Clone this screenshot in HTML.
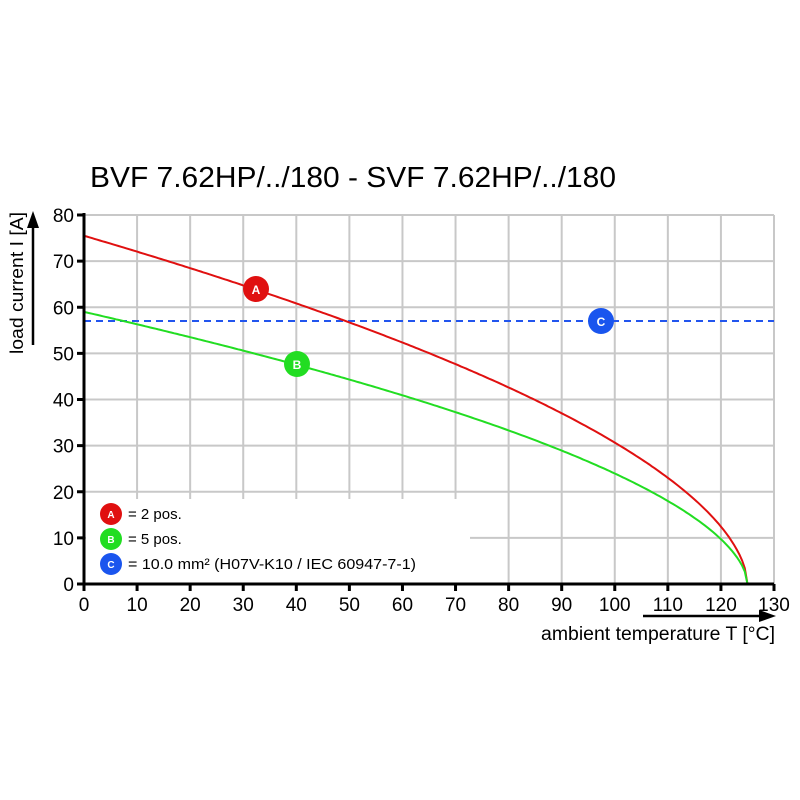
<!DOCTYPE html>
<html><head><style>body{margin:0;background:#fff}svg{display:block}</style></head><body>
<svg id="s" width="800" height="800" viewBox="0 0 800 800" font-family="Liberation Sans, Arial, sans-serif">
<rect width="800" height="800" fill="#fff"/>
<g id="grid" stroke="#c8c8c8" stroke-width="2"></g>
<rect x="86" y="499" width="384" height="84" fill="#fff"/>
<line x1="84" y1="321" x2="774" y2="321" stroke="#2255ee" stroke-width="2" stroke-dasharray="7,5"/>
<path id="pa" fill="none" stroke="#e01010" stroke-width="2"/>
<path id="pb" fill="none" stroke="#22dd22" stroke-width="2"/>
<g id="ax" stroke="#000" stroke-width="3"></g>
<g id="lab" font-size="19" fill="#000"></g>
<text x="90" y="187" font-size="29" textLength="526" lengthAdjust="spacingAndGlyphs">BVF 7.62HP/../180 - SVF 7.62HP/../180</text>
<text transform="translate(23,283) rotate(-90)" font-size="18" text-anchor="middle" textLength="142" lengthAdjust="spacingAndGlyphs">load current I [A]</text>
<line x1="33" y1="345" x2="33" y2="225" stroke="#000" stroke-width="2.5"/>
<polygon points="33,211 27,228 39,228" fill="#000"/>
<text x="541" y="640" font-size="19" textLength="234" lengthAdjust="spacingAndGlyphs">ambient temperature T [°C]</text>
<line x1="643" y1="616" x2="762" y2="616" stroke="#000" stroke-width="2.5"/>
<polygon points="776,616 759,610 759,622" fill="#000"/>
<g font-weight="bold" font-size="12" text-anchor="middle" fill="#fff">
<circle cx="256" cy="289" r="13" fill="#e01010"/><text x="256" y="294">A</text>
<circle cx="297" cy="364" r="13" fill="#22dd22"/><text x="297" y="369">B</text>
<circle cx="601" cy="321" r="13" fill="#1a55ee"/><text x="601" y="326">C</text>
<circle cx="111" cy="514" r="11" fill="#e01010"/><text x="111" y="518" font-size="10">A</text>
<circle cx="111" cy="539" r="11" fill="#22dd22"/><text x="111" y="543" font-size="10">B</text>
<circle cx="111" cy="564" r="11" fill="#1a55ee"/><text x="111" y="568" font-size="10">C</text>
</g>
<g font-size="15" fill="#000">
<text x="128" y="519">= 2 pos.</text>
<text x="128" y="544">= 5 pos.</text>
<text x="128" y="569" textLength="288" lengthAdjust="spacingAndGlyphs">= 10.0 mm² (H07V-K10 / IEC 60947-7-1)</text>
</g>
</svg>
<script>
var X=function(t){return 84+t*690/130},Y=function(v){return 584-v*369/80};
var g=document.getElementById('grid'),ax=document.getElementById('ax'),lab=document.getElementById('lab'),h='',a='',l='';
for(var t=10;t<=130;t+=10)h+='<line x1="'+X(t)+'" y1="215" x2="'+X(t)+'" y2="584"/>';
for(var v=10;v<=80;v+=10)h+='<line x1="84" y1="'+Y(v)+'" x2="774" y2="'+Y(v)+'"/>';
g.innerHTML=h;
a+='<line x1="84" y1="213" x2="84" y2="586"/><line x1="82" y1="584" x2="774" y2="584"/>';
for(var t=0;t<=130;t+=10){a+='<line x1="'+X(t)+'" y1="584" x2="'+X(t)+'" y2="591"/>';l+='<text x="'+X(t)+'" y="611" text-anchor="middle">'+t+'</text>';}
for(var v=0;v<=80;v+=10){a+='<line x1="77" y1="'+Y(v)+'" x2="84" y2="'+Y(v)+'"/>';l+='<text x="74" y="'+(Y(v)+7)+'" text-anchor="end">'+v+'</text>';}
ax.innerHTML=a;lab.innerHTML=l;
function p(i0){var d='';for(var i=0;i<=250;i++){var t=i*0.5,v=i0*Math.pow(Math.max(0,1-t/125),0.56);d+=(i?'L':'M')+X(t).toFixed(1)+' '+Y(v).toFixed(1);}return d;}
document.getElementById('pa').setAttribute('d',p(75.5));
document.getElementById('pb').setAttribute('d',p(59));
</script>
</body></html>
